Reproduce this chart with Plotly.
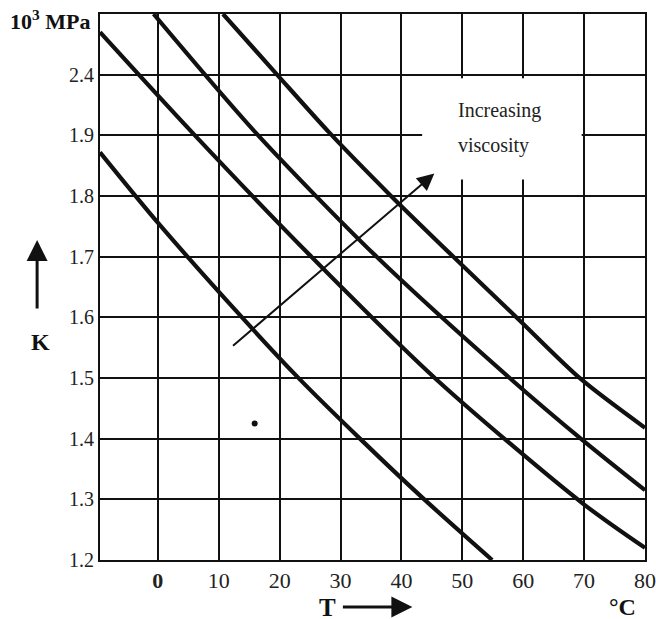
import plotly.graph_objects as go

# Temperature (°C) and K (10^3 MPa)
curve1_T = [-9.5, 0, 13.9, 23, 33.4, 43.3, 54.9]
curve1_K = [1.872, 1.756, 1.599, 1.501, 1.398, 1.304, 1.2]

curve2_T = [-9.5, 5.7, 24.9, 45.7, 69.8, 80]
curve2_K = [2.070, 1.904, 1.703, 1.498, 1.293, 1.220]

curve3_T = [-0.7, 16.1, 35.6, 58.0, 69.7, 80]
curve3_K = [2.1, 1.904, 1.703, 1.498, 1.398, 1.315]

curve4_T = [10.7, 19.5, 28.2, 38.0, 48.2, 59.0, 69.5, 80]
curve4_K = [2.1, 2.001, 1.904, 1.803, 1.703, 1.599, 1.498, 1.418]

dot_T = [15.9]
dot_K = [1.425]

x_ticks = [0, 10, 20, 30, 40, 50, 60, 70, 80]
x_ticktext = ["<b>0</b>", "10", "20", "30", "40", "50", "60", "70", "80"]
y_ticks = [1.2, 1.3, 1.4, 1.5, 1.6, 1.7, 1.8, 1.9, 2.0]
y_ticktext = ["1.2", "1.3", "1.4", "1.5", "1.6", "1.7", "1.8", "1.9", "2.4"]

# viscosity arrow: tail and tip
arrow_tail = (12.1, 1.551)
arrow_tip = (45.4, 1.837)

SERIF = "Liberation Serif, Times New Roman, serif"
INK = "#111111"

fig = go.Figure()
for xs, ys in [(curve1_T, curve1_K), (curve2_T, curve2_K),
               (curve3_T, curve3_K), (curve4_T, curve4_K)]:
    fig.add_trace(go.Scatter(x=xs, y=ys, mode="lines",
                             line=dict(color=INK, width=4.2, shape="spline", smoothing=0.8),
                             showlegend=False, hoverinfo="skip", cliponaxis=True))
fig.add_trace(go.Scatter(x=dot_T, y=dot_K, mode="markers",
                         marker=dict(color=INK, size=6), showlegend=False, hoverinfo="skip"))

# white patch behind the label
fig.add_shape(type="rect", xref="x", yref="y", x0=43.4, x1=69.6, y0=1.827, y1=1.994,
              fillcolor="white", line=dict(width=0), layer="between")

fig.add_annotation(x=arrow_tip[0], y=arrow_tip[1], ax=arrow_tail[0], ay=arrow_tail[1],
                   xref="x", yref="y", axref="x", ayref="y", text="",
                   showarrow=True, arrowhead=2, arrowsize=1.7, arrowwidth=2, arrowcolor=INK)

fig.add_annotation(x=49.0, y=1.941, xref="x", yref="y", text="Increasing", showarrow=False,
                   xanchor="left", yanchor="middle", font=dict(family=SERIF, size=20, color="#222"))
fig.add_annotation(x=49.0, y=1.884, xref="x", yref="y", text="viscosity", showarrow=False,
                   xanchor="left", yanchor="middle", font=dict(family=SERIF, size=20, color="#222"))

# axis decorations
fig.add_annotation(x=-0.1154, y=0.586, xref="paper", yref="paper", ax=0, ay=70,
                   text="", showarrow=True, arrowhead=2, arrowsize=1.4, arrowwidth=3, arrowcolor=INK)
fig.add_annotation(x=-0.110, y=0.4, xref="paper", yref="paper", text="<b>K</b>", showarrow=False,
                   xanchor="center", yanchor="middle", font=dict(family=SERIF, size=24, color=INK))
fig.add_annotation(x=-0.0147, y=0.989, xref="paper", yref="paper", text="<b>10<sup>3</sup> MPa</b>",
                   showarrow=False, xanchor="right", yanchor="middle",
                   font=dict(family=SERIF, size=22, color=INK))
fig.add_annotation(x=0.4176, y=-0.0861, xref="paper", yref="paper", text="<b>T</b>", showarrow=False,
                   xanchor="center", yanchor="middle", font=dict(family=SERIF, size=25, color=INK))
fig.add_annotation(x=0.5732, y=-0.0861, xref="paper", yref="paper", ax=-71, ay=0,
                   text="", showarrow=True, arrowhead=2, arrowsize=1.4, arrowwidth=3, arrowcolor=INK)
fig.add_annotation(x=0.958, y=-0.0861, xref="paper", yref="paper", text="<b>°C</b>", showarrow=False,
                   xanchor="center", yanchor="middle", font=dict(family=SERIF, size=24, color=INK))

fig.update_xaxes(range=[-9.5, 80], tickvals=x_ticks, ticktext=x_ticktext, automargin=False,
                 ticklabeloverflow="allow",
                 showgrid=True, gridcolor=INK, gridwidth=2, zeroline=False,
                 showline=True, mirror=True, linecolor=INK, linewidth=2,
                 ticks="", tickfont=dict(family=SERIF, size=22, color="#222"),
                 fixedrange=True)
fig.update_yaxes(range=[1.2, 2.1], tickvals=y_ticks, ticktext=y_ticktext, automargin=False,
                 ticklabeloverflow="allow",
                 showgrid=True, gridcolor=INK, gridwidth=2, zeroline=False,
                 showline=True, mirror=True, linecolor=INK, linewidth=2,
                 ticks="", tickfont=dict(family=SERIF, size=20, color="#222"),
                 fixedrange=True)

fig.update_layout(width=656, height=619, autosize=False,
                  margin=dict(l=100, r=11, t=14, b=59),
                  paper_bgcolor="white", plot_bgcolor="white", showlegend=False)

fig.write_html("out.html",
               config={"displayModeBar": False, "responsive": False},
               default_width="656px", default_height="619px",
               post_script="document.body.style.margin='0';document.body.style.overflow='hidden';")
